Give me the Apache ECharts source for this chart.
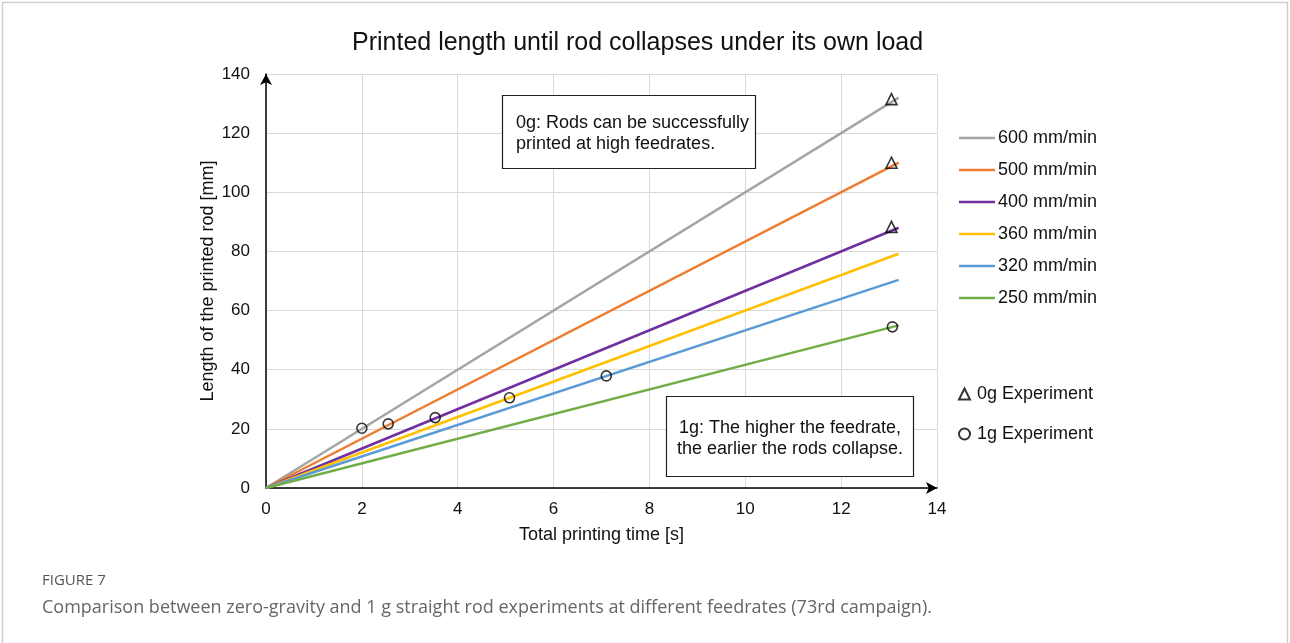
<!DOCTYPE html>
<html>
<head>
<meta charset="utf-8">
<script src="https://cdn.jsdelivr.net/npm/echarts@6/dist/echarts.min.js"></script>
<style>
  html, body { margin: 0; padding: 0; background: #fff; }
  #chart { width: 1290px; height: 643px; }
</style>
</head>
<body>
<div id="chart"></div>
<script>
// feedrate lines (model: length grows linearly with printing time)
const speedNames = ['600 mm/min', '500 mm/min', '400 mm/min', '360 mm/min', '320 mm/min', '250 mm/min']
const speedColors = ['#a5a5a5', '#ed7d31', '#7030a0', '#ffc000', '#5b9bd5', '#70ad47']
const lineEndTime = 13.2
const lineEndLength = [132, 110, 88, 79.2, 70.4, 55]

// experiment points [time s, length mm]
const zeroGPoints = [[13.05, 131.5], [13.05, 110], [13.05, 88.3]]
const oneGPoints = [[2.0, 20.2], [2.55, 21.7], [3.53, 23.8], [5.08, 30.5], [7.1, 37.9], [13.07, 54.5]]

const xTicks = { min: 0, max: 14, interval: 2 }
const yTicks = { min: 0, max: 140, interval: 20 }

const font = '"Liberation Sans", Arial, sans-serif'

const chart = echarts.init(document.getElementById('chart'))

const lineSeries = speedNames.map((name, i) => ({
  name: name,
  type: 'line',
  symbol: 'none',
  z: 2,
  lineStyle: { color: speedColors[i], width: 2.5 },
  itemStyle: { color: speedColors[i] },
  data: [[0, 0], [lineEndTime, lineEndLength[i]]]
}))

const option = {
  backgroundColor: '#fff',
  animation: false,
  title: {
    text: 'Printed length until rod collapses under its own load',
    left: 352,
    top: 31,
    padding: 0,
    textStyle: { fontFamily: font, fontSize: 25, fontWeight: 'normal', color: '#111' }
  },
  grid: {
    left: 266,
    right: 353,
    top: 74,
    bottom: 155,
    containLabel: false,
    outerBoundsMode: 'none'
  },
  legend: [
    {
      data: speedNames.map(n => ({ name: n, icon: 'rect' })),
      orient: 'vertical',
      left: 954,
      top: 124,
      itemWidth: 36,
      itemHeight: 2.5,
      itemGap: 14,
      textStyle: { fontFamily: font, fontSize: 18, color: '#111', lineHeight: 18, padding: [0, 0, 0, -2] }
    },
    {
      data: ['0g Experiment', '1g Experiment'],
      orient: 'vertical',
      left: 953,
      top: 380,
      itemWidth: 11,
      itemHeight: 11,
      itemGap: 22,
      textStyle: { fontFamily: font, fontSize: 18, color: '#111', lineHeight: 18, padding: [0, 0, 0, 2] }
    }
  ],
  xAxis: {
    type: 'value',
    min: xTicks.min,
    max: xTicks.max,
    interval: xTicks.interval,
    name: 'Total printing time [s]',
    nameLocation: 'middle',
    nameGap: 38,
    nameMoveOverlap: false,
    nameTextStyle: { fontFamily: font, fontSize: 18, color: '#111' },
    axisLine: {
      show: true,
      symbol: ['none', 'arrow'],
      symbolSize: [9, 11],
      lineStyle: { color: '#000', width: 1.5 }
    },
    axisTick: { show: false },
    axisLabel: { fontFamily: font, fontSize: 17, color: '#111', margin: 13 },
    splitLine: { show: true, lineStyle: { color: '#d9d9d9', width: 1 } }
  },
  yAxis: {
    type: 'value',
    min: yTicks.min,
    max: yTicks.max,
    interval: yTicks.interval,
    name: 'Length of the printed rod [mm]',
    nameLocation: 'middle',
    nameGap: 49,
    nameMoveOverlap: false,
    nameTextStyle: { fontFamily: font, fontSize: 18, color: '#111' },
    axisLine: {
      show: true,
      symbol: ['none', 'arrow'],
      symbolSize: [9, 11],
      lineStyle: { color: '#000', width: 1.5 }
    },
    axisTick: { show: false },
    axisLabel: { fontFamily: font, fontSize: 17, color: '#111', margin: 16 },
    splitLine: { show: true, lineStyle: { color: '#d9d9d9', width: 1 } }
  },
  series: lineSeries.concat([
    {
      name: '0g Experiment',
      type: 'scatter',
      symbol: 'triangle',
      symbolSize: 11,
      z: 5,
      itemStyle: { color: 'rgba(0,0,0,0)', borderColor: '#000', borderWidth: 1.6 },
      data: zeroGPoints
    },
    {
      name: '1g Experiment',
      type: 'scatter',
      symbol: 'circle',
      symbolSize: 10,
      z: 5,
      itemStyle: { color: 'rgba(0,0,0,0)', borderColor: '#000', borderWidth: 1.6 },
      data: oneGPoints
    }
  ]),
  graphic: [
    // page frame
    {
      type: 'rect',
      shape: { x: 2.5, y: 2.5, width: 1285, height: 700 },
      style: { fill: 'none', stroke: '#cfcfcf', lineWidth: 1.5 },
      silent: true
    },
    // 0g note
    {
      type: 'rect',
      shape: { x: 502.5, y: 95.5, width: 253, height: 73 },
      style: { fill: '#fff', stroke: '#222', lineWidth: 1.2 },
      z: 10
    },
    {
      type: 'text',
      x: 516,
      y: 133.5,
      z: 11,
      style: {
        text: '0g: Rods can be successfully\nprinted at high feedrates.',
        font: '18px ' + font,
        fill: '#111',
        lineHeight: 21.5,
        verticalAlign: 'middle',
        textAlign: 'left'
      }
    },
    // 1g note
    {
      type: 'rect',
      shape: { x: 666.5, y: 396.5, width: 247, height: 80 },
      style: { fill: '#fff', stroke: '#222', lineWidth: 1.2 },
      z: 10
    },
    {
      type: 'text',
      x: 790,
      y: 438.5,
      z: 11,
      style: {
        text: '1g: The higher the feedrate,\nthe earlier the rods collapse.',
        font: '18px ' + font,
        fill: '#111',
        lineHeight: 20.5,
        verticalAlign: 'middle',
        textAlign: 'center'
      }
    },
    // caption
    {
      type: 'text',
      x: 42,
      y: 581,
      style: {
        text: 'FIGURE 7',
        font: '15px "Open Sans", "Noto Sans", sans-serif',
        fill: '#555',
        verticalAlign: 'middle'
      }
    },
    {
      type: 'text',
      x: 42,
      y: 608,
      style: {
        text: 'Comparison between zero-gravity and 1 g straight rod experiments at different feedrates (73rd campaign).',
        font: '18px "Open Sans", "Noto Sans", sans-serif',
        fill: '#666',
        verticalAlign: 'middle'
      }
    }
  ]
}

chart.setOption(option)
</script>
</body>
</html>
